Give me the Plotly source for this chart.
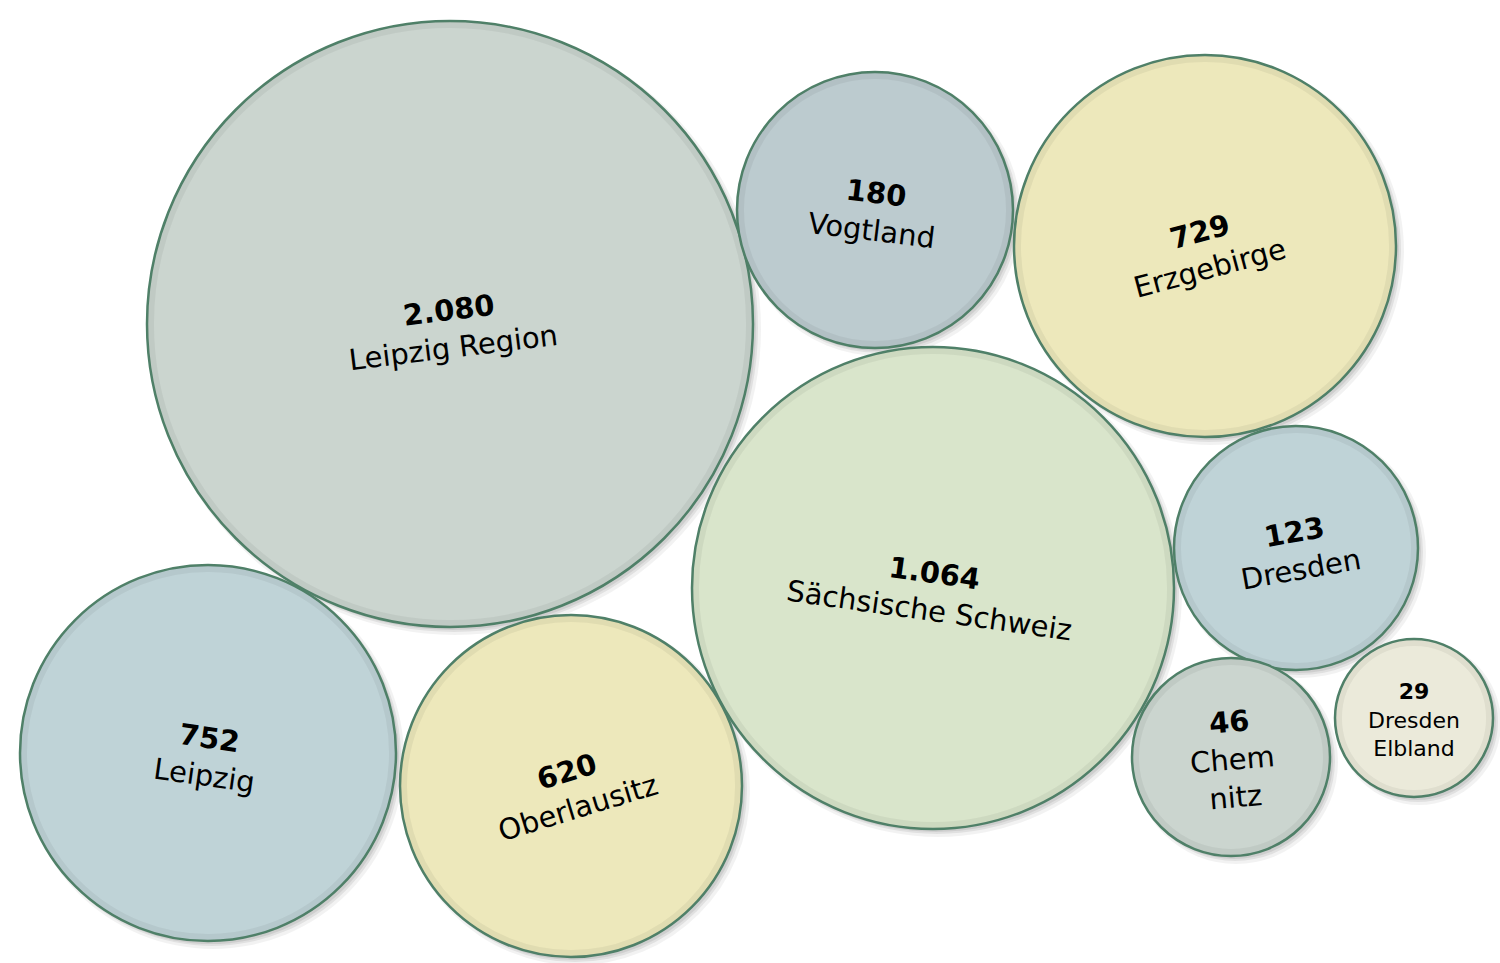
import plotly.graph_objects as go

# Data
regions = ["Leipzig Region", "Vogtland", "Erzgebirge", "Sächsische Schweiz", "Dresden",
           "Chem<br>nitz", "Dresden<br>Elbland", "Leipzig", "Oberlausitz"]
values = [2080, 180, 729, 1064, 123, 46, 29, 752, 620]

# Layout (packed bubble positions, in pixel units of the canvas)
cx = [450, 875, 1205, 933, 1296, 1231, 1414, 208, 571]
cy = [324, 210, 246, 588, 548, 757, 718, 753, 786]
rad = [303, 138, 191, 241, 122, 99, 79, 188, 171]
label_x = [451, 874, 1205, 932, 1297, 1232, 1414, 207, 572]
label_y = [329, 212, 250, 592, 551, 759, 720, 757, 790]
angles = [-7, 7, -15, 8, -10, -5, 0, 8, -17]
fonts = [29, 29, 29, 29, 29, 29, 22, 29, 29]
fills = ["#cbd5cf", "#bccbcf", "#ede8bb", "#d9e5cb", "#bfd3d7",
         "#cbd5cf", "#ebeada", "#bfd3d7", "#ede8bb"]
edge = "#4f8068"


def fmt(v):
    return f"{v:,}".replace(",", ".")


fig = go.Figure()
fig.add_trace(go.Scatter(x=cx, y=cy, mode="markers", marker=dict(size=1, opacity=0),
                         hoverinfo="skip", showlegend=False))

shapes = []
# soft shadows
for x, y, r in zip(cx, cy, rad):
    for off, grow, a in [(5, 3, 0.05), (4, 1, 0.07), (3, 0, 0.08)]:
        shapes.append(dict(type="circle", xref="x", yref="y", layer="below",
                           x0=x - r - grow + off, x1=x + r + grow + off,
                           y0=y - r - grow + off, y1=y + r + grow + off,
                           fillcolor=f"rgba(0,0,0,{a})", line=dict(width=0)))
for x, y, r, c in zip(cx, cy, rad, fills):
    shapes.append(dict(type="circle", xref="x", yref="y", layer="below",
                       x0=x - r, x1=x + r, y0=y - r, y1=y + r,
                       fillcolor=c, line=dict(color=edge, width=2.5)))
    # inner edge darkening
    shapes.append(dict(type="circle", xref="x", yref="y", layer="below",
                       x0=x - r + 4, x1=x + r - 4, y0=y - r + 4, y1=y + r - 4,
                       fillcolor="rgba(0,0,0,0)", line=dict(color="rgba(0,0,0,0.05)", width=6)))

annotations = []
for name, v, lx, ly, ang, fs in zip(regions, values, label_x, label_y, angles, fonts):
    annotations.append(dict(x=lx, y=ly, xref="x", yref="y", showarrow=False,
                            text=f"<b>{fmt(v)}</b><br>{name}", textangle=ang,
                            font=dict(family="DejaVu Sans, Verdana, sans-serif", size=fs, color="#000000"),
                            align="center"))

fig.update_layout(
    width=1500, height=963,
    margin=dict(l=0, r=0, t=0, b=0),
    paper_bgcolor="white", plot_bgcolor="white",
    xaxis=dict(range=[0, 1500], visible=False, fixedrange=True),
    yaxis=dict(range=[963, 0], visible=False, fixedrange=True),
    shapes=shapes, annotations=annotations, showlegend=False,
)

fig.write_html("out.html", config={"displayModeBar": False},
               post_script="document.body.style.margin='0';document.body.style.overflow='hidden';")
